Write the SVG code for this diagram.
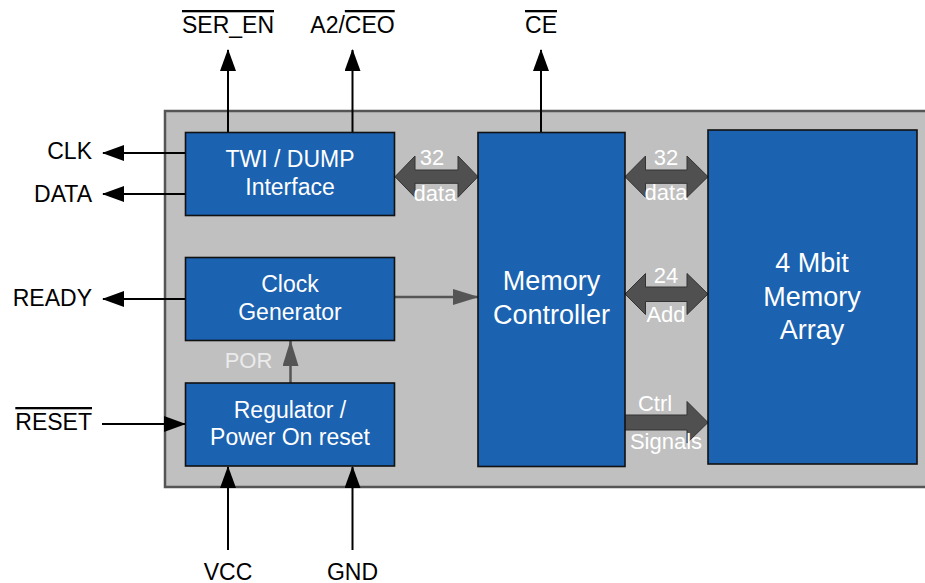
<svg xmlns="http://www.w3.org/2000/svg" width="925" height="583" viewBox="0 0 925 583">
<style>
.lbl{font-family:"Liberation Sans",Arial,sans-serif;font-size:23px;fill:#000}
.box{fill:#1b62b0;stroke:#111;stroke-width:1.6}
.bt{font-family:"Liberation Sans",Arial,sans-serif;font-size:23px;fill:#fff;text-anchor:middle}
.big{font-family:"Liberation Sans",Arial,sans-serif;font-size:27px;fill:#fff;text-anchor:middle}
.al{font-family:"Liberation Sans",Arial,sans-serif;font-size:22px;fill:#fff;text-anchor:middle}
.wire{stroke:#000;stroke-width:2;fill:none}
.gw{stroke:#555;stroke-width:2.5;fill:none}
.fat{fill:#505050;stroke:#333;stroke-width:1}
.ol{text-decoration:overline}
</style>
<defs>
<marker id="ah" viewBox="0 0 22 16" refX="21" refY="8" markerWidth="22" markerHeight="16" markerUnits="userSpaceOnUse" orient="auto"><path d="M0,0 L22,8 L0,16 Z" fill="#000"/></marker>
<marker id="gh" viewBox="0 0 26 16" refX="25" refY="8" markerWidth="26" markerHeight="16" markerUnits="userSpaceOnUse" orient="auto"><path d="M0,0 L26,8 L0,16 Z" fill="#555"/></marker>
</defs>
<rect id="chip" x="165" y="111" width="770" height="376" fill="#c0c0c0" stroke="#555" stroke-width="2.5"/>

<g id="connectors">
<line class="wire" x1="228" y1="132" x2="228" y2="50" marker-end="url(#ah)"/>
<line class="wire" x1="352.5" y1="132" x2="352.5" y2="50" marker-end="url(#ah)"/>
<line class="wire" x1="541" y1="132" x2="541" y2="50" marker-end="url(#ah)"/>
<line class="wire" x1="185" y1="153" x2="103" y2="153" marker-end="url(#ah)"/>
<line class="wire" x1="185" y1="194" x2="103" y2="194" marker-end="url(#ah)"/>
<line class="wire" x1="185" y1="299" x2="103" y2="299" marker-end="url(#ah)"/>
<line class="wire" x1="102" y1="424" x2="185" y2="424" marker-end="url(#ah)"/>
<line class="wire" x1="228" y1="550" x2="228" y2="467" marker-end="url(#ah)"/>
<line class="wire" x1="352.5" y1="550" x2="352.5" y2="467" marker-end="url(#ah)"/>
<line class="gw" x1="395" y1="297" x2="478" y2="297" marker-end="url(#gh)"/>
<line class="gw" x1="290.5" y1="383" x2="290.5" y2="341" marker-end="url(#gh)"/>
<path class="fat" d="M395,176.7 L415,156 L415,170 L458,170 L458,156 L478,176.7 L458,197.3 L458,183.3 L415,183.3 L415,197.3 Z"/>
<path class="fat" d="M625,176.7 L645.5,156 L645.5,170 L687,170 L687,156 L708,176.7 L687,197.3 L687,183.3 L645.5,183.3 L645.5,197.3 Z"/>
<path class="fat" d="M625,294 L645.5,273.5 L645.5,287 L687,287 L687,273.5 L708,294 L687,314.5 L687,301.5 L645.5,301.5 L645.5,314.5 Z"/>
<path class="fat" d="M624,415 L687,415 L687,401.5 L708,422.5 L687,443 L687,430 L624,430 Z"/>
</g>

<g id="twi"><rect class="box" x="185.5" y="132.5" width="209" height="83"/>
<text class="bt" x="290" y="167">TWI / DUMP</text><text class="bt" x="290" y="194.5">Interface</text></g>
<g id="clockgen"><rect class="box" x="185.5" y="257.5" width="209" height="83"/>
<text class="bt" x="290" y="292">Clock</text><text class="bt" x="290" y="320">Generator</text></g>
<g id="regulator"><rect class="box" x="185.5" y="383" width="209" height="83"/>
<text class="bt" x="290" y="418">Regulator /</text><text class="bt" x="290" y="445">Power On reset</text></g>
<g id="memctrl"><rect class="box" x="478" y="132.5" width="147" height="334"/>
<text class="big" x="551.5" y="290">Memory</text><text class="big" x="551.5" y="323.5">Controller</text></g>
<g id="memarray"><rect class="box" x="708" y="130" width="209" height="334"/>
<text class="big" x="812" y="272">4 Mbit</text><text class="big" x="812" y="306">Memory</text><text class="big" x="812" y="339">Array</text></g>

<g id="bus-labels">
<text class="al" x="432" y="165">32</text><text class="al" x="435" y="201">data</text>
<text class="al" x="666" y="165">32</text><text class="al" x="666" y="200">data</text>
<text class="al" x="666" y="283">24</text><text class="al" x="666" y="321.5">Add</text>
<text class="al" x="655" y="410.5">Ctrl</text><text class="al" x="666" y="449">Signals</text>
<text class="al" x="248.5" y="368" style="fill:#ebebeb">POR</text>
</g>

<g id="pins">
<text class="lbl" x="228" y="33" text-anchor="middle"><tspan class="ol">SER_EN</tspan></text>
<text class="lbl" x="352.5" y="33" text-anchor="middle">A2/<tspan class="ol">CEO</tspan></text>
<text class="lbl" x="541" y="33" text-anchor="middle"><tspan class="ol">CE</tspan></text>
<text class="lbl" x="92" y="158.5" text-anchor="end">CLK</text>
<text class="lbl" x="92" y="202" text-anchor="end">DATA</text>
<text class="lbl" x="92" y="306" text-anchor="end">READY</text>
<text class="lbl" x="92" y="430" text-anchor="end"><tspan class="ol">RESET</tspan></text>
<text class="lbl" x="228" y="580" text-anchor="middle">VCC</text>
<text class="lbl" x="352.5" y="580" text-anchor="middle">GND</text>
</g>
</svg>
